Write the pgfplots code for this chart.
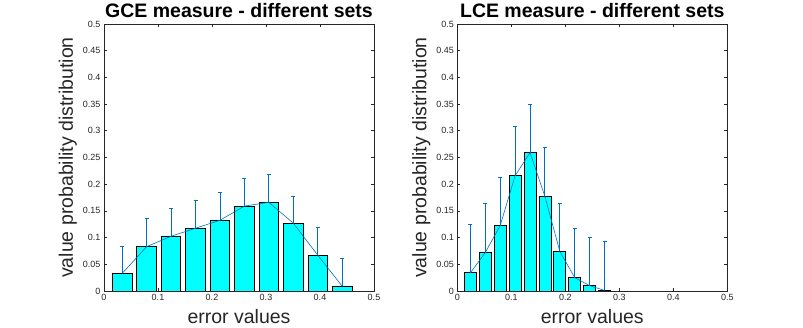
\documentclass[border=0pt]{standalone}
\usepackage{fontspec}
\setmainfont{Liberation Sans}
\usepackage{pgfplots}
\pgfplotsset{compat=1.18}
\usepackage{pgfplotstable}
\definecolor{mblue}{RGB}{0,114,189}
\definecolor{mcyan}{RGB}{0,255,255}
\definecolor{axgray}{HTML}{262626}

% x, bar height, upper error
\pgfplotstableread{
x y e
0.0337 0.0330 0.0500
0.0790 0.0830 0.0530
0.1242 0.1025 0.0525
0.1695 0.1175 0.0525
0.2148 0.1325 0.0525
0.2601 0.1590 0.0520
0.3053 0.1660 0.0530
0.3506 0.1270 0.0505
0.3959 0.0670 0.0520
0.4411 0.0090 0.0520
}\gce
\pgfplotstableread{
x y e
0.0242 0.0340 0.0900
0.0518 0.0720 0.0920
0.0794 0.1225 0.0900
0.1071 0.2160 0.0930
0.1347 0.2590 0.0900
0.1623 0.1770 0.0920
0.1899 0.0740 0.0900
0.2175 0.0250 0.0925
0.2452 0.0100 0.0906
0.2728 0.0010 0.0915
}\lce

\pgfplotsset{
  matlab/.style={
    scale only axis,
    width=270pt, height=267pt,
    xmin=0, xmax=0.5, ymin=0, ymax=0.5,
    xtick={0,0.1,...,0.5},
    ytick={0,0.05,...,0.5},
    tick align=inside,
    major tick length=3pt,
    axis line style={axgray, line width=0.6pt},
    tick style={axgray, line width=0.6pt},
    scaled ticks=false,
    /pgf/number format/assume math mode=true,
    /pgf/number format/fixed,
    /pgf/number format/precision=2,
    tick label style={font=\fontsize{9}{10}\selectfont, text=axgray},
    every axis title/.style={at={(0.5,1)}, anchor=base, yshift=6.5pt,
      font=\bfseries\fontsize{19.5}{21}\selectfont},
    every axis x label/.style={at={(axis description cs:0.5,-0.12)}, anchor=base,
      font=\fontsize{19.5}{22}\selectfont, text=axgray},
    every axis y label/.style={at={(axis description cs:-0.115,0.5)}, anchor=base,
      rotate=90, font=\fontsize{19.5}{22}\selectfont, text=axgray},
    xlabel={error values},
    ylabel={value probability distribution},
  },
  errline/.style={mblue, line width=0.6pt, mark=none,
    error bars/.cd, y dir=plus, y explicit,
    error bar style={mblue, line width=0.9pt},
    error mark options={mblue, rotate=90, mark size=2pt, line width=0.9pt}},
}

\begin{document}
\begin{tikzpicture}
\path[use as bounding box] (0,0) rectangle (803pt,328pt);
\begin{axis}[matlab, at={(104pt,37pt)}, anchor=south west,
  title={GCE measure - different sets}]
\addplot[ybar, bar width=0.0362, fill=mcyan, draw=black, line width=0.8pt]
  table[x=x, y=y] {\gce};
\addplot[errline] table[x=x, y=y, y error=e] {\gce};
\end{axis}
\begin{axis}[matlab, at={(457.3pt,37pt)}, anchor=south west,
  title={LCE measure - different sets}]
\addplot[ybar, bar width=0.0221, fill=mcyan, draw=black, line width=0.8pt]
  table[x=x, y=y] {\lce};
\addplot[errline] table[x=x, y=y, y error=e] {\lce};
\end{axis}
\end{tikzpicture}
\end{document}
